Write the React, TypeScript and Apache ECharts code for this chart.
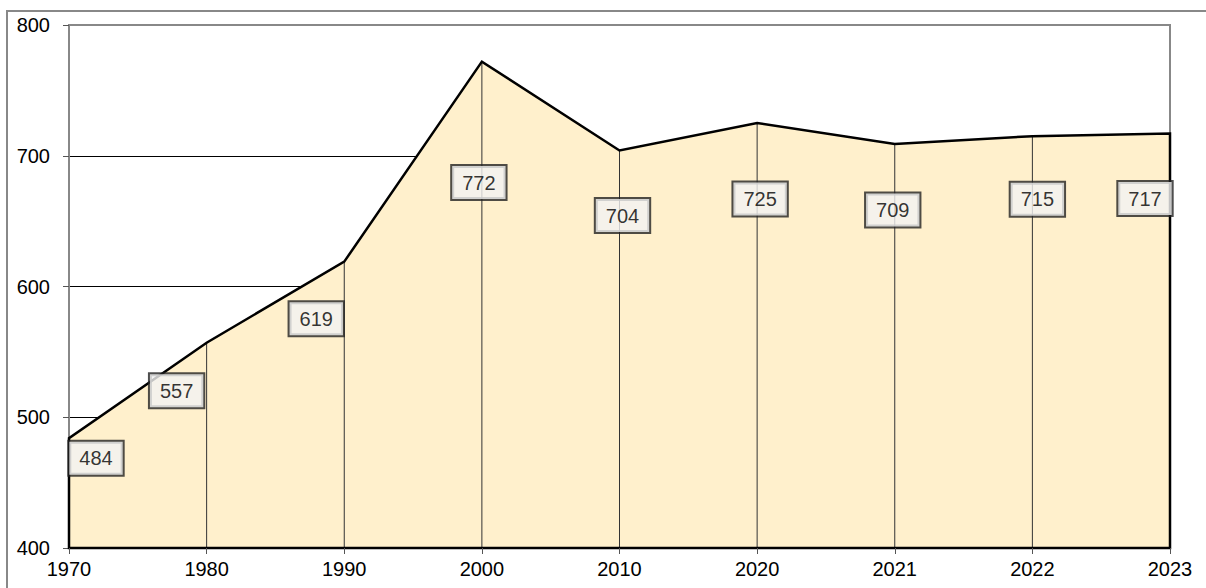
import React, { useEffect, useRef } from "react";
import * as echarts from "echarts";

const years = ["1970", "1980", "1990", "2000", "2010", "2020", "2021", "2022", "2023"];
const values = [484, 557, 619, 772, 704, 725, 709, 715, 717];
// label box offsets (px) relative to each point
const labelOffsets = [
  [27, 20], [-30, 48], [-28, 57], [-3, 121], [3, 65], [3, 76], [-2, 66], [5, 63], [-25, 65],
];
const yTicks = { min: 400, max: 800, interval: 100 };

const FONT = 'Arial, "Liberation Sans", sans-serif';

export default function App() {
  const ref = useRef<HTMLDivElement>(null);
  useEffect(() => {
    if (!ref.current) return;
    const chart = echarts.init(ref.current, null, { renderer: "svg" });
    chart.setOption({
      animation: false,
      backgroundColor: "#fff",
      graphic: [
        {
          type: "rect",
          shape: { x: 7, y: 11, width: 1400, height: 800 },
          style: { fill: "none", stroke: "#888", lineWidth: 2 },
          z: -10,
          silent: true,
        },
      ],
      grid: {
        left: 69,
        top: 25,
        right: 36,
        bottom: 40,
        show: true,
        borderColor: "#888",
        borderWidth: 2,
        backgroundColor: "transparent",
      },
      xAxis: {
        type: "category",
        data: years,
        boundaryGap: false,
        axisLine: { show: true, lineStyle: { color: "#000", width: 2 } },
        axisTick: { show: true, length: 6, lineStyle: { color: "#555", width: 1 } },
        axisLabel: { color: "#000", fontSize: 20, fontFamily: FONT, margin: 11 },
        splitLine: { show: false },
        z: 5,
      },
      yAxis: {
        type: "value",
        min: yTicks.min,
        max: yTicks.max,
        interval: yTicks.interval,
        axisLine: { show: true, lineStyle: { color: "#888", width: 2 } },
        axisTick: { show: true, length: 6, lineStyle: { color: "#555", width: 1 } },
        axisLabel: { color: "#000", fontSize: 20, fontFamily: FONT, margin: 19 },
        splitLine: {
          show: true,
          lineStyle: { color: ["#000", "#000", "#000", "#000", "#888"], width: 1 },
        },
      },
      series: [
        {
          type: "custom",
          data: values.map((v, i) => [i, v]),
          z: 2,
          renderItem: (params: any, api: any) => {
            if (params.dataIndex !== 0) return null;
            const pts = values.map((v, i) => api.coord([i, v]));
            const bottom = api.coord([0, yTicks.min])[1];
            const first = pts[0];
            const last = pts[pts.length - 1];
            const poly = [[first[0], bottom], ...pts, [last[0], bottom]];
            const children: any[] = [
              {
                type: "polygon",
                shape: { points: poly },
                style: { fill: "#FFF0CC", stroke: "none" },
              },
            ];
            pts.forEach((p: number[]) => {
              children.push({
                type: "line",
                shape: { x1: p[0], y1: p[1], x2: p[0], y2: bottom },
                style: { stroke: "#333", lineWidth: 1 },
              });
            });
            children.push({
              type: "polygon",
              shape: { points: poly },
              style: { fill: "none", stroke: "#000", lineWidth: 2.5, lineJoin: "miter" },
            });
            return { type: "group", children };
          },
        },
        {
          type: "scatter",
          symbolSize: 0,
          z: 10,
          data: values.map((v, i) => ({
            value: [i, v],
            label: { offset: labelOffsets[i] },
          })),
          label: {
            show: true,
            position: "inside",
            formatter: (p: any) => String(p.value[1]),
            color: "#000",
            fontSize: 20,
            fontFamily: FONT,
            lineHeight: 21,
            textBorderWidth: 0,
            textBorderColor: "transparent",
            backgroundColor: "#F2F2F2",
            borderColor: "#222",
            borderWidth: 2,
            padding: [6, 10],
          },
        },
      ],
    });
    return () => chart.dispose();
  }, []);
  return (
    <div
      ref={ref}
      style={{ position: "fixed", left: 0, top: 0, width: 1206, height: 588 }}
    />
  );
}
